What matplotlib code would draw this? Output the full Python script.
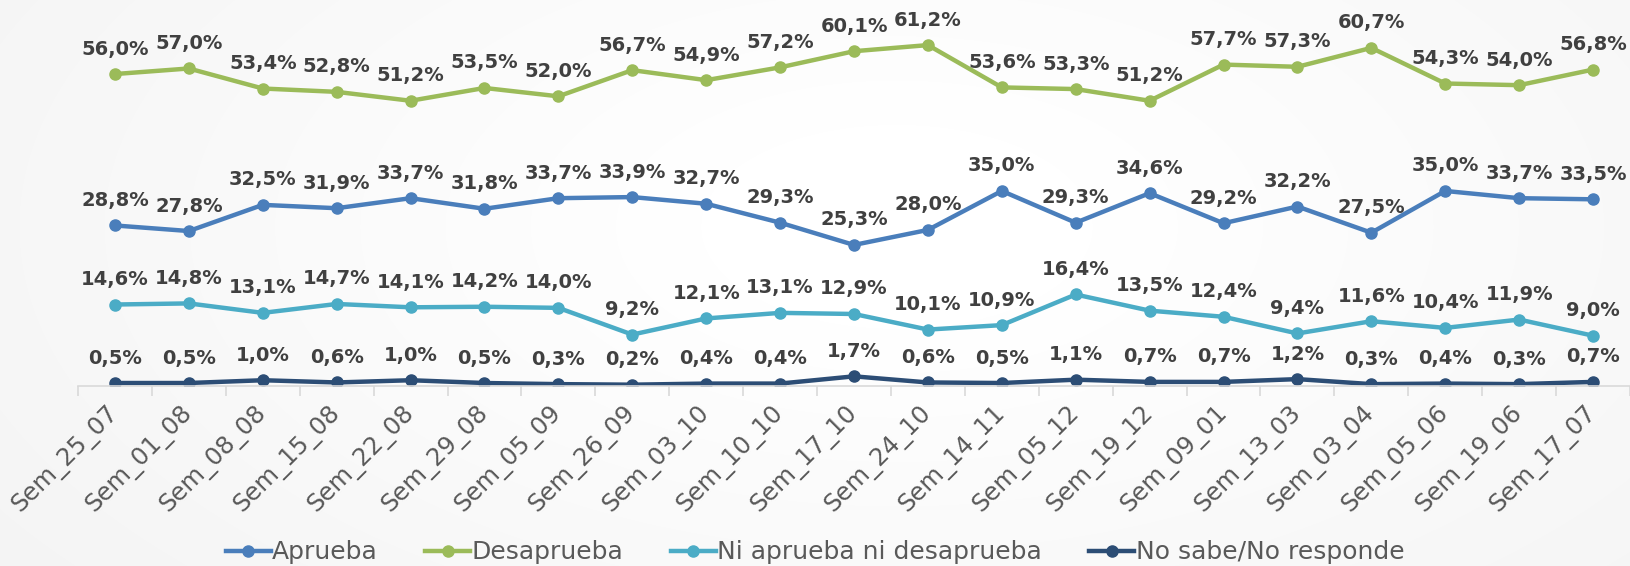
import numpy as np
import matplotlib
matplotlib.use("Agg")
import matplotlib.pyplot as plt
from matplotlib.lines import Line2D

categories = ["Sem_25_07", "Sem_01_08", "Sem_08_08", "Sem_15_08", "Sem_22_08", "Sem_29_08",
              "Sem_05_09", "Sem_26_09", "Sem_03_10", "Sem_10_10", "Sem_17_10", "Sem_24_10",
              "Sem_14_11", "Sem_05_12", "Sem_19_12", "Sem_09_01", "Sem_13_03", "Sem_03_04",
              "Sem_05_06", "Sem_19_06", "Sem_17_07"]
aprueba = [28.8, 27.8, 32.5, 31.9, 33.7, 31.8, 33.7, 33.9, 32.7, 29.3, 25.3, 28.0, 35.0, 29.3,
           34.6, 29.2, 32.2, 27.5, 35.0, 33.7, 33.5]
desaprueba = [56.0, 57.0, 53.4, 52.8, 51.2, 53.5, 52.0, 56.7, 54.9, 57.2, 60.1, 61.2, 53.6, 53.3,
              51.2, 57.7, 57.3, 60.7, 54.3, 54.0, 56.8]
ni = [14.6, 14.8, 13.1, 14.7, 14.1, 14.2, 14.0, 9.2, 12.1, 13.1, 12.9, 10.1, 10.9, 16.4,
      13.5, 12.4, 9.4, 11.6, 10.4, 11.9, 9.0]
nsnr = [0.5, 0.5, 1.0, 0.6, 1.0, 0.5, 0.3, 0.2, 0.4, 0.4, 1.7, 0.6, 0.5, 1.1, 0.7, 0.7, 1.2,
        0.3, 0.4, 0.3, 0.7]
series_names = ["Aprueba", "Desaprueba", "Ni aprueba ni desaprueba", "No sabe/No responde"]
series_values = [aprueba, desaprueba, ni, nsnr]
colors = ["#4a7ebb", "#9bbb59", "#4bacc6", "#2c4d75"]

W, H = 1630, 566
fig = plt.figure(figsize=(W / 100, H / 100), dpi=100)

# subtle radial background
bg = fig.add_axes([0, 0, 1, 1], zorder=-10)
yy, xx = np.mgrid[0:H, 0:W]
r = np.sqrt(((xx - W * 0.55) / (W * 0.6)) ** 2 + ((yy - H * 0.4) / (H * 0.9)) ** 2)
shade = 1.0 - 0.045 * np.clip(r - 0.2, 0, 1.2)
bg.imshow(np.dstack([shade, shade, shade]), aspect="auto", extent=[0, 1, 0, 1])
bg.axis("off")

left = 78 / W
bottom = (H - 385.8) / H
ax = fig.add_axes([left, bottom, 1.0 - left, 1.0 - bottom])
ax.set_facecolor("none")

x = np.arange(len(categories))
for name, vals, c in zip(series_names, series_values, colors):
    ax.plot(x, vals, color=c, lw=3.2, marker="o", ms=8, label=name, solid_capstyle="round")
    for xi, v in zip(x, vals):
        ax.annotate(f"{v:.1f}%".replace(".", ","), (xi, v), xytext=(0, 18),
                    textcoords="offset points", ha="center", va="center",
                    fontsize=14, fontweight="bold", color="#404040",
                    family="DejaVu Sans")

ax.set_xlim(-0.5, len(categories) - 0.5)
ax.set_ylim(0, 69.3)
ax.set_yticks([])
for s in ["top", "right", "left"]:
    ax.spines[s].set_visible(False)
ax.spines["bottom"].set_color("#d9d9d9")
ax.spines["bottom"].set_linewidth(1.2)

ax.set_xticks(x)
ax.set_xticklabels(categories, rotation=45, ha="right", va="center",
                   rotation_mode="anchor", fontsize=17.5, color="#595959")
ax.tick_params(axis="x", which="major", length=0, pad=17)
ax.set_xticks(np.arange(-0.5, len(categories), 1), minor=True)
ax.tick_params(axis="x", which="minor", length=7, color="#d9d9d9", width=1.2)

handles = [Line2D([0], [0], color=c, lw=3.2, marker="o", ms=8) for c in colors]
fig.legend(handles, series_names, loc="center", bbox_to_anchor=(0.5, 0.024), ncol=4,
           frameon=False, fontsize=18, handlelength=1.8, handletextpad=0.05,
           columnspacing=1.9, labelcolor="#595959")

fig.savefig("out.png", dpi=100)
